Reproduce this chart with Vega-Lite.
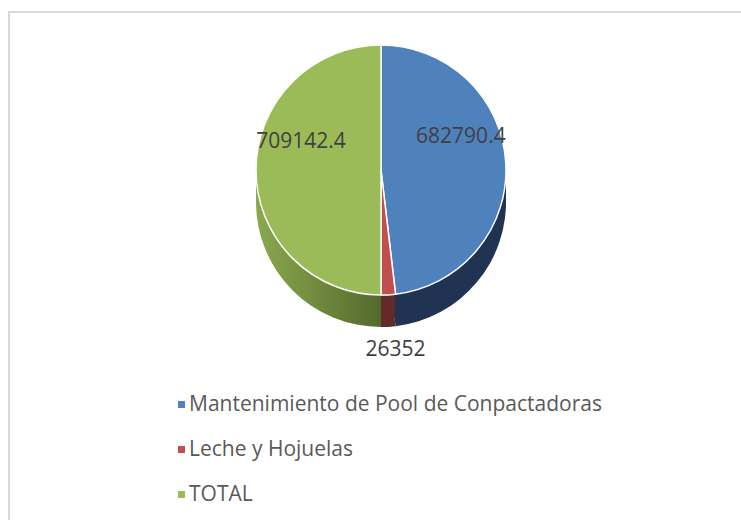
{
  "$schema": "https://vega.github.io/schema/vega-lite/v6.json",
  "width": 732,
  "height": 508,
  "autosize": {"type": "none"},
  "padding": {"left": 9, "top": 12, "right": 0, "bottom": 0},
  "background": "white",
  "config": {
    "view": {"stroke": null},
    "font": "Open Sans"
  },
  "data": {
    "values": [
      {"name": "Mantenimiento de Pool de Conpactadoras", "value": 682790.4, "order": 1},
      {"name": "Leche y Hojuelas", "value": 26352, "order": 2},
      {"name": "TOTAL", "value": 709142.4, "order": 3}
    ]
  },
  "resolve": {"scale": {"fill": "independent"}, "legend": {"fill": "independent"}},
  "layer": [
    {
      "mark": {"type": "rect", "fill": null, "stroke": "#d9d9d9", "strokeWidth": 1.5, "x2Offset": 6, "y2Offset": 6},
      "encoding": {"x": {"value": 0}, "x2": {"value": "width"}, "y": {"value": 0}, "y2": {"value": "height"}}
    },
    {
      "mark": {"type": "arc", "outerRadius": 125, "xOffset": 6, "yOffset": -64},
      "encoding": {
        "theta": {"field": "value", "type": "quantitative", "stack": true},
        "order": {"field": "order", "type": "quantitative"},
        "fill": {
          "condition": {"test": "datum.name === 'TOTAL'", "value": {"gradient": "linear", "x1": 0, "y1": 0, "x2": 1, "y2": 0, "stops": [{"offset": 0, "color": "#8aa94e"}, {"offset": 1, "color": "#536a2d"}]}},
          "field": "name", "type": "nominal",
          "scale": {"domain": ["Mantenimiento de Pool de Conpactadoras", "Leche y Hojuelas", "TOTAL"], "range": ["#203352", "#632a29", "#6e8a3b"]},
          "legend": null
        }
      }
    },
    {
      "mark": {"type": "arc", "outerRadius": 125, "xOffset": 6, "yOffset": -72},
      "encoding": {
        "theta": {"field": "value", "type": "quantitative", "stack": true},
        "order": {"field": "order", "type": "quantitative"},
        "fill": {
          "condition": {"test": "datum.name === 'TOTAL'", "value": {"gradient": "linear", "x1": 0, "y1": 0, "x2": 1, "y2": 0, "stops": [{"offset": 0, "color": "#8aa94e"}, {"offset": 1, "color": "#536a2d"}]}},
          "field": "name", "type": "nominal",
          "scale": {"domain": ["Mantenimiento de Pool de Conpactadoras", "Leche y Hojuelas", "TOTAL"], "range": ["#203352", "#632a29", "#6e8a3b"]},
          "legend": null
        }
      }
    },
    {
      "mark": {"type": "arc", "outerRadius": 125, "xOffset": 6, "yOffset": -80},
      "encoding": {
        "theta": {"field": "value", "type": "quantitative", "stack": true},
        "order": {"field": "order", "type": "quantitative"},
        "fill": {
          "condition": {"test": "datum.name === 'TOTAL'", "value": {"gradient": "linear", "x1": 0, "y1": 0, "x2": 1, "y2": 0, "stops": [{"offset": 0, "color": "#8aa94e"}, {"offset": 1, "color": "#536a2d"}]}},
          "field": "name", "type": "nominal",
          "scale": {"domain": ["Mantenimiento de Pool de Conpactadoras", "Leche y Hojuelas", "TOTAL"], "range": ["#203352", "#632a29", "#6e8a3b"]},
          "legend": null
        }
      }
    },
    {
      "mark": {"type": "arc", "outerRadius": 125, "xOffset": 6, "yOffset": -88},
      "encoding": {
        "theta": {"field": "value", "type": "quantitative", "stack": true},
        "order": {"field": "order", "type": "quantitative"},
        "fill": {
          "condition": {"test": "datum.name === 'TOTAL'", "value": {"gradient": "linear", "x1": 0, "y1": 0, "x2": 1, "y2": 0, "stops": [{"offset": 0, "color": "#8aa94e"}, {"offset": 1, "color": "#536a2d"}]}},
          "field": "name", "type": "nominal",
          "scale": {"domain": ["Mantenimiento de Pool de Conpactadoras", "Leche y Hojuelas", "TOTAL"], "range": ["#203352", "#632a29", "#6e8a3b"]},
          "legend": null
        }
      }
    },
    {
      "mark": {"type": "arc", "outerRadius": 125, "xOffset": 6, "yOffset": -96, "stroke": "white", "strokeWidth": 1.5},
      "encoding": {
        "theta": {"field": "value", "type": "quantitative", "stack": true},
        "order": {"field": "order", "type": "quantitative"},
        "fill": {
          "field": "name", "type": "nominal",
          "scale": {"domain": ["Mantenimiento de Pool de Conpactadoras", "Leche y Hojuelas", "TOTAL"], "range": ["#4f81bd", "#c0504d", "#9bbb59"]},
          "legend": {
            "title": null,
            "orient": "none",
            "legendX": 162,
            "legendY": 382,
            "direction": "vertical",
            "padding": 0,
            "symbolType": "square",
            "symbolSize": 49,
            "symbolStrokeWidth": 0,
            "labelFont": "Open Sans",
            "labelFontSize": 21,
            "labelColor": "#595959",
            "labelOffset": -3,
            "labelLimit": 600,
            "rowPadding": 23
          }
        }
      }
    },
    {
      "mark": {"type": "text", "radius": 80, "dx": 6, "dy": -124, "fontSize": 21, "font": "Open Sans", "fill": "#404040"},
      "encoding": {
        "theta": {"field": "value", "type": "quantitative", "stack": true},
        "order": {"field": "order", "type": "quantitative"},
        "text": {"condition": {"test": "datum.order === 2", "value": ""}, "field": "value", "type": "quantitative", "format": ".1f"}
      }
    },
    {
      "mark": {"type": "text", "radius": 180, "dx": 10, "dy": -96, "fontSize": 21, "font": "Open Sans", "fill": "#404040"},
      "encoding": {
        "theta": {"field": "value", "type": "quantitative", "stack": true},
        "order": {"field": "order", "type": "quantitative"},
        "text": {"condition": {"test": "datum.order !== 2", "value": ""}, "field": "value", "type": "quantitative", "format": "d"}
      }
    }
  ]
}
